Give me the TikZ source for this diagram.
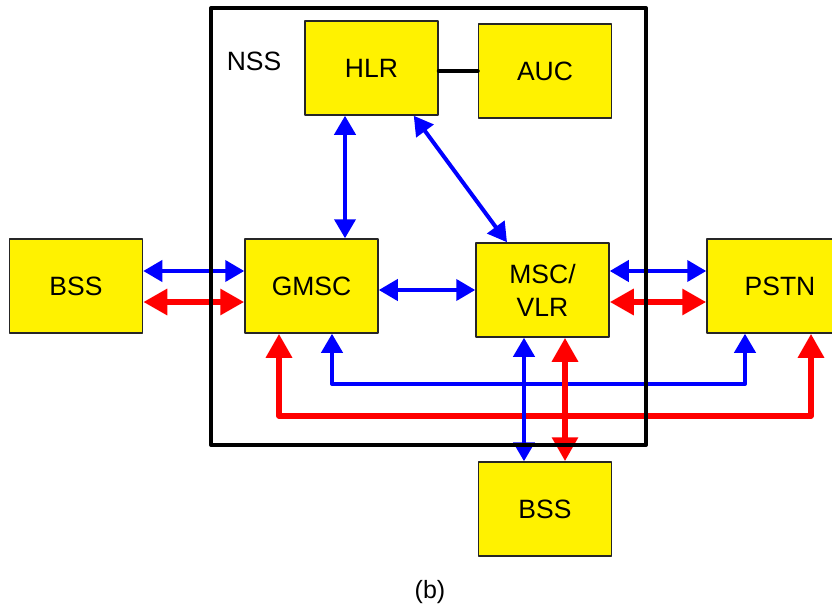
\documentclass[tikz,border=0pt]{standalone}
\usepackage{fontspec}
\setmainfont{Liberation Sans}
\usepackage{tikz}
\usetikzlibrary{
  calc,                  % anchor shifts
  arrows.meta            % Triangle tips
}

\tikzset{
  unit/.style={draw=black!85, line width=1.5pt, fill=yellow, minimum width=133pt,
    minimum height=94pt, inner sep=0pt, font=\fontsize{26.5}{33}\selectfont, align=center},
  sig/.style={draw=blue, line width=4pt, {Triangle[length=19pt,width=21pt]}-{Triangle[length=19pt,width=21pt]}},
  traffic/.style={draw=red, line width=6pt, {Triangle[length=24pt,width=25pt]}-{Triangle[length=24pt,width=25pt]}}
}

\begin{document}
\begin{tikzpicture}[x=1pt, y=-1pt, line join=round]
        \useasboundingbox (0,0) rectangle (832,610);

        % Network elements
        \node[unit] (HLR) at (371.5,68) {HLR};
        \node[unit] (AUC) at (545,71) {AUC};
        \node[unit] (GMSC) at (311.5,286) {GMSC};
        \node[unit] (MSC) at (542.5,290) {MSC/\\VLR};
        \node[unit] (BSSa) at (76,286) {BSS};
        \node[unit, minimum width=146pt] (PSTN) at (780,286) {PSTN};
        \node[unit] (BSSb) at (545,509) {BSS};

        % HLR - AUC link
        \draw[line width=4pt, line cap=round] (HLR.east |- AUC.west) -- (AUC.west);

        % Signalling inside NSS
        \coordinate (hg) at ([xshift=-26.5pt]HLR.south);
        \draw[sig] (hg) -- (hg |- GMSC.north);
        \draw[sig] ([xshift=-25pt]HLR.south east) -- ([xshift=-35.5pt]MSC.north);
        \draw[sig] (MSC.west -| GMSC.east) -- (MSC.west);

        % BSS - GMSC
        \draw[sig] ([yshift=15pt]BSSa.east) -- ([yshift=15pt]GMSC.west);
        \draw[traffic] ([yshift=-16pt]BSSa.east) -- ([yshift=-16pt]GMSC.west);

        % MSC - PSTN
        \coordinate (mp1) at ([yshift=19pt]MSC.east);
        \coordinate (mp2) at ([yshift=-12pt]MSC.east);
        \draw[sig] (mp1) -- (mp1 -| PSTN.west);
        \draw[traffic] (mp2) -- (mp2 -| PSTN.west);

        % GMSC - PSTN underneath
        \draw[traffic] ([xshift=-32.5pt]GMSC.south) -- ++(0,82) -| ([xshift=31pt]PSTN.south);
        \draw[sig] ([xshift=20.5pt]GMSC.south) -- ++(0,50) -| ([xshift=-35pt]PSTN.south);

        % MSC - lower BSS
        \coordinate (mb1) at ([xshift=-18.5pt]MSC.south);
        \coordinate (mb2) at ([xshift=22.5pt]MSC.south);
        \draw[sig] (mb1) -- (mb1 |- BSSb.north);
        \draw[traffic] (mb2) -- (mb2 |- BSSb.north);

        % NSS frame
        \draw[line width=4pt] (211,8) rectangle (646,445);
        \node[font=\fontsize{26.5}{30}\selectfont] (NSS) at (254,61) {NSS};

        % Caption
        \node[font=\fontsize{25}{28}\selectfont] (cap) at (430,592) {(b)};
    \end{tikzpicture}
\end{document}
